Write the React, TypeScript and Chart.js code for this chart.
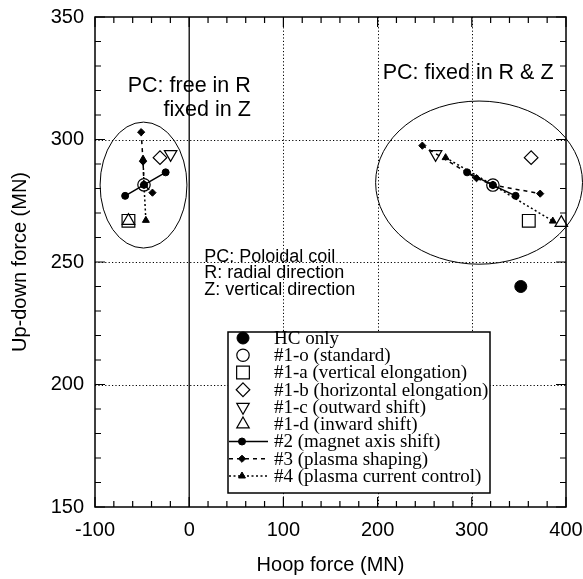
import React, { useEffect, useRef } from "react";
import { Chart, registerables } from "chart.js";

Chart.register(...registerables);

// ---------- data ----------
const hcOnly = [{ x: 352, y: 240 }];
const standard = [{ x: -48, y: 281.5 }, { x: 322.4, y: 281.4 }];
const verticalElong = [{ x: -64.5, y: 266.8 }, { x: 360.5, y: 266.8 }];
const horizontalElong = [{ x: -31, y: 292.6 }, { x: 363, y: 292.6 }];
const outwardShift = [{ x: -19.7, y: 294 }, { x: 261.6, y: 294 }];
const inwardShift = [{ x: -64.5, y: 266.8 }, { x: 395, y: 266 }];
const GAP = { x: null, y: null };
const magnetAxisShift = [
  { x: -68, y: 277 }, { x: -48, y: 281.5 }, { x: -25, y: 286.6 }, GAP,
  { x: 295, y: 286.6 }, { x: 322.4, y: 281.4 }, { x: 346.5, y: 277 },
];
const plasmaShaping = [
  { x: -51, y: 303 }, { x: -49, y: 291 }, { x: -48, y: 281.5 }, { x: -39, y: 278.3 }, GAP,
  { x: 247.5, y: 297.5 }, { x: 305, y: 284.2 }, { x: 322.4, y: 281.4 }, { x: 372.6, y: 277.9 },
];
const plasmaCurrent = [
  { x: -49, y: 292 }, { x: -48, y: 281.5 }, { x: -46, y: 267 }, GAP,
  { x: 272.2, y: 292.6 }, { x: 322.4, y: 281.4 }, { x: 386, y: 266.7 },
];

const seriesLabels = [
  "HC only",
  "#1-o (standard)",
  "#1-a (vertical elongation)",
  "#1-b (horizontal elongation)",
  "#1-c (outward shift)",
  "#1-d (inward shift)",
  "#2 (magnet axis shift)",
  "#3 (plasma shaping)",
  "#4 (plasma current control)",
];

const xMin = -100, xMax = 400, xMinorStep = 20, xMajorStep = 100;
const yMin = 150, yMax = 350, yMinorStep = 10, yMajorStep = 50;
const gridXValues = [100, 200, 300];
const gridYValues = [200, 250, 300];
const zeroLineX = 0;

const xTitle = "Hoop force (MN)";
const yTitle = "Up-down force (MN)";

const ellipses = [
  { cx: -48.5, cy: 281.4, rx: 46.1, ry: 25.7 },
  { cx: 307.7, cy: 282.4, rx: 109.8, ry: 33.3 },
];

const notes = [
  { text: "PC: free in R", x: 65.4, y: 322, align: "right", size: 21.5 },
  { text: "fixed in Z", x: 65.4, y: 312, align: "right", size: 21.5 },
  { text: "PC: fixed in R & Z", x: 205.4, y: 327.1, align: "left", size: 21.5 },
  { text: "PC: Poloidal coil", x: 16, y: 252.2, align: "left", size: 18 },
  { text: "R: radial direction", x: 16, y: 245.5, align: "left", size: 18 },
  { text: "Z: vertical direction", x: 16, y: 238.6, align: "left", size: 18 },
];

const SANS = "'Liberation Sans', Arial, Helvetica, sans-serif";
const SERIF = "'Liberation Serif', 'Times New Roman', serif";

// ---------- helpers ----------
function drawMarker(ctx: CanvasRenderingContext2D, style: string, x: number, y: number, r: number, rotation: number, fill: string, stroke: string, lw: number) {
  ctx.save();
  ctx.beginPath();
  const rad = (rotation * Math.PI) / 180;
  if (style === "circle") {
    ctx.arc(x, y, r, 0, Math.PI * 2);
  } else if (style === "rect") {
    const s = Math.SQRT1_2 * r;
    ctx.rect(x - s, y - s, 2 * s, 2 * s);
  } else if (style === "rectRot") {
    ctx.moveTo(x, y - r);
    ctx.lineTo(x + r, y);
    ctx.lineTo(x, y + r);
    ctx.lineTo(x - r, y);
    ctx.closePath();
  } else if (style === "triangle") {
    let a = rad;
    ctx.moveTo(x + Math.sin(a) * r, y - Math.cos(a) * r);
    a += (2 * Math.PI) / 3;
    ctx.lineTo(x + Math.sin(a) * r, y - Math.cos(a) * r);
    a += (2 * Math.PI) / 3;
    ctx.lineTo(x + Math.sin(a) * r, y - Math.cos(a) * r);
    ctx.closePath();
  }
  ctx.fillStyle = fill;
  ctx.fill();
  ctx.lineWidth = lw;
  ctx.strokeStyle = stroke;
  ctx.setLineDash([]);
  ctx.stroke();
  ctx.restore();
}

const decorPlugin = {
  id: "decor",
  beforeDatasetsDraw(chart: any) {
    const { ctx, chartArea: a, scales } = chart;
    const xs = scales.x, ys = scales.y;
    ctx.save();
    ctx.strokeStyle = "#000";
    ctx.lineWidth = 1;
    ctx.setLineDash([1.2, 2.2]);
    for (const v of gridXValues) {
      const px = Math.round(xs.getPixelForValue(v)) + 0.5;
      ctx.beginPath(); ctx.moveTo(px, a.top); ctx.lineTo(px, a.bottom); ctx.stroke();
    }
    for (const v of gridYValues) {
      const py = Math.round(ys.getPixelForValue(v)) + 0.5;
      ctx.beginPath(); ctx.moveTo(a.left, py); ctx.lineTo(a.right, py); ctx.stroke();
    }
    ctx.setLineDash([]);
    ctx.lineWidth = 1.3;
    const zx = xs.getPixelForValue(zeroLineX);
    ctx.beginPath(); ctx.moveTo(zx, a.top); ctx.lineTo(zx, a.bottom); ctx.stroke();

    // ellipses
    ctx.lineWidth = 1;
    for (const e of ellipses) {
      const cx = xs.getPixelForValue(e.cx), cy = ys.getPixelForValue(e.cy);
      const rx = Math.abs(xs.getPixelForValue(e.cx + e.rx) - cx);
      const ry = Math.abs(ys.getPixelForValue(e.cy + e.ry) - cy);
      ctx.beginPath(); ctx.ellipse(cx, cy, rx, ry, 0, 0, Math.PI * 2); ctx.stroke();
    }
    // notes
    ctx.fillStyle = "#000";
    ctx.textBaseline = "middle";
    for (const n of notes) {
      ctx.font = `${n.size}px ${SANS}`;
      ctx.textAlign = n.align as CanvasTextAlign;
      ctx.fillText(n.text, xs.getPixelForValue(n.x), ys.getPixelForValue(n.y));
    }
    ctx.restore();
  },
  afterDraw(chart: any) {
    const { ctx, chartArea: a, scales } = chart;
    const xs = scales.x, ys = scales.y;
    ctx.save();
    ctx.strokeStyle = "#000";
    ctx.setLineDash([]);
    // frame
    ctx.lineWidth = 1.5;
    ctx.strokeRect(a.left, a.top, a.right - a.left, a.bottom - a.top);
    // ticks (inward, all sides)
    ctx.lineWidth = 1.2;
    for (let v = xMin; v <= xMax + 1e-6; v += xMinorStep) {
      const px = xs.getPixelForValue(v);
      const len = v % xMajorStep === 0 ? 10 : 6;
      ctx.beginPath();
      ctx.moveTo(px, a.bottom); ctx.lineTo(px, a.bottom - len);
      ctx.moveTo(px, a.top); ctx.lineTo(px, a.top + len);
      ctx.stroke();
    }
    for (let v = yMin; v <= yMax + 1e-6; v += yMinorStep) {
      const py = ys.getPixelForValue(v);
      const len = v % yMajorStep === 0 ? 10 : 6;
      ctx.beginPath();
      ctx.moveTo(a.left, py); ctx.lineTo(a.left + len, py);
      ctx.moveTo(a.right, py); ctx.lineTo(a.right - len, py);
      ctx.stroke();
    }
    // legend box
    const bx = 228, by = 332, bw = 262, bh = 161;
    ctx.fillStyle = "#fff";
    ctx.fillRect(bx, by, bw, bh);
    ctx.lineWidth = 1.5;
    ctx.strokeRect(bx, by, bw, bh);
    const rowY0 = 338, rowH = 17.25;
    ctx.font = `19px ${SERIF}`;
    ctx.textAlign = "left";
    ctx.textBaseline = "middle";
    chart.data.datasets.forEach((ds: any, i: number) => {
      const y = rowY0 + i * rowH;
      const r = ds.pointRadius;
      if (ds.showLine) {
        ctx.save();
        ctx.lineWidth = ds.borderWidth;
        ctx.setLineDash(ds.borderDash || []);
        ctx.beginPath(); ctx.moveTo(bx + 1, y); ctx.lineTo(bx + 40, y); ctx.stroke();
        ctx.restore();
        drawMarker(ctx, ds.pointStyle, bx + 14, y, r, ds.pointRotation || 0, ds.pointBackgroundColor, "#000", 1);
      } else {
        drawMarker(ctx, ds.pointStyle, bx + 15, y, r, ds.pointRotation || 0, ds.pointBackgroundColor, "#000", ds.pointBorderWidth);
      }
      ctx.fillStyle = "#000";
      ctx.fillText(ds.label, bx + 46, y + 1);
    });
    ctx.restore();
  },
};

const openMarker = (data: any[], label: string, style: string, radius: number, rotation = 0) => ({
  label, data, showLine: false, pointStyle: style, pointRadius: radius, pointRotation: rotation,
  pointBackgroundColor: "rgba(0,0,0,0)", pointBorderColor: "#000", pointBorderWidth: 1.2,
  borderColor: "#000", backgroundColor: "rgba(0,0,0,0)", clip: false, order: 1,
});

const lineSeries = (data: any[], label: string, style: string, radius: number, dash: number[]) => ({
  label, data, showLine: true, spanGaps: false, pointStyle: style, pointRadius: radius,
  pointBackgroundColor: "#000", pointBorderColor: "#000", pointBorderWidth: 1,
  borderColor: "#000", borderWidth: 1.5, borderDash: dash, backgroundColor: "#000",
  clip: false, order: 2,
});

export default function App() {
  const ref = useRef<HTMLCanvasElement | null>(null);
  useEffect(() => {
    document.body.style.margin = "0";
    if (!ref.current) return;
    const chart = new Chart(ref.current, {
      type: "scatter",
      data: {
        datasets: [
          {
            label: seriesLabels[0], data: hcOnly, showLine: false, pointStyle: "circle", pointRadius: 6,
            pointBackgroundColor: "#000", pointBorderColor: "#000", pointBorderWidth: 1,
            backgroundColor: "#000", borderColor: "#000", clip: false, order: 1,
          } as any,
          openMarker(standard, seriesLabels[1], "circle", 6.2),
          openMarker(verticalElong, seriesLabels[2], "rect", 9),
          openMarker(horizontalElong, seriesLabels[3], "rectRot", 6.8),
          openMarker(outwardShift, seriesLabels[4], "triangle", 7.2, 180),
          openMarker(inwardShift, seriesLabels[5], "triangle", 7.2),
          lineSeries(magnetAxisShift, seriesLabels[6], "circle", 3.5, []),
          lineSeries(plasmaShaping, seriesLabels[7], "rectRot", 3.6, [4, 4]),
          lineSeries(plasmaCurrent, seriesLabels[8], "triangle", 4, [2, 2.5]),
        ],
      },
      options: {
        animation: false,
        responsive: true,
        maintainAspectRatio: false,
        layout: { padding: { top: 17, right: 17, left: 0, bottom: 0 } },
        plugins: { legend: { display: false }, tooltip: { enabled: false } },
        scales: {
          x: {
            type: "linear", min: xMin, max: xMax,
            grid: { display: false, drawTicks: false },
            border: { display: false },
            ticks: {
              stepSize: xMinorStep, padding: 11, color: "#000",
              font: { family: SANS, size: 20 },
              callback: (v: any) => (Number(v) % xMajorStep === 0 ? String(v) : ""),
              maxRotation: 0, autoSkip: false,
            },
            title: { display: true, text: xTitle, color: "#000", font: { family: SANS, size: 20 }, padding: { top: 0, bottom: 2 } },
            afterFit: (s: any) => { s.height = 72; s.paddingLeft = 0; s.paddingRight = 0; },
          },
          y: {
            type: "linear", min: yMin, max: yMax,
            grid: { display: false, drawTicks: false },
            border: { display: false },
            ticks: {
              stepSize: yMinorStep, padding: 11, color: "#000",
              font: { family: SANS, size: 20 },
              callback: (v: any) => (Number(v) % yMajorStep === 0 ? String(v) : ""),
              autoSkip: false,
            },
            title: { display: true, text: yTitle, color: "#000", font: { family: SANS, size: 20 }, padding: { top: 8, bottom: 0 } },
            afterFit: (s: any) => { s.width = 95; s.paddingTop = 0; s.paddingBottom = 0; },
          },
        },
      } as any,
      plugins: [decorPlugin],
    });
    return () => chart.destroy();
  }, []);
  return (
    <div style={{ position: "relative", width: 583, height: 579 }}>
      <canvas ref={ref} />
    </div>
  );
}
